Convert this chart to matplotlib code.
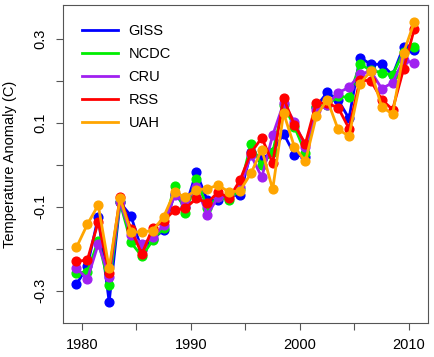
import matplotlib
matplotlib.use("Agg")
import matplotlib.pyplot as plt
import numpy as np

plt.rcParams['font.family'] = ['Liberation Sans', 'DejaVu Sans']

# annual means, plotted at mid-year
years = np.arange(1979, 2011) + 0.5

giss = [-0.285, -0.242, -0.124, -0.327, -0.090, -0.122, -0.204, -0.176, -0.156, -0.069,
        -0.100, -0.018, -0.085, -0.085, -0.073, -0.073, 0.030, 0.013, 0.030, 0.074,
        0.024, 0.019, 0.138, 0.172, 0.154, 0.110, 0.255, 0.239, 0.239, 0.213,
        0.280, 0.272]
ncdc = [-0.258, -0.255, -0.181, -0.287, -0.090, -0.185, -0.218, -0.180, -0.150, -0.050,
        -0.115, -0.035, -0.102, -0.077, -0.085, -0.057, 0.049, -0.001, 0.030, 0.142,
        0.090, 0.028, 0.138, 0.142, 0.163, 0.160, 0.239, 0.225, 0.219, 0.213,
        0.269, 0.279]
cru = [-0.246, -0.272, -0.189, -0.267, -0.088, -0.168, -0.189, -0.173, -0.144, -0.073,
       -0.088, -0.054, -0.119, -0.077, -0.073, -0.054, 0.023, -0.030, 0.070, 0.146,
       0.102, 0.042, 0.130, 0.142, 0.171, 0.184, 0.215, 0.223, 0.181, 0.195,
       0.250, 0.241]
rss = [-0.230, -0.227, -0.136, -0.258, -0.077, -0.154, -0.213, -0.150, -0.134, -0.108,
       -0.104, -0.080, -0.091, -0.065, -0.080, -0.037, 0.028, 0.064, 0.004, 0.158,
       0.094, 0.050, 0.147, 0.146, 0.136, 0.086, 0.201, 0.200, 0.155, 0.131,
       0.227, 0.324]
uah = [-0.197, -0.142, -0.096, -0.247, -0.080, -0.160, -0.160, -0.157, -0.124, -0.065,
       -0.078, -0.060, -0.057, -0.049, -0.065, -0.062, -0.021, 0.036, -0.059, 0.123,
       0.042, 0.008, 0.115, 0.155, 0.084, 0.068, 0.192, 0.223, 0.138, 0.120,
       0.266, 0.340]

names = ['GISS', 'NCDC', 'CRU', 'RSS', 'UAH']
colors = ['#0000FF', '#00EE00', '#A020F0', '#FF0000', '#FFA500']
series = [giss, ncdc, cru, rss, uah]

fig = plt.figure(figsize=(4.34, 3.57), dpi=100)
ax = fig.add_axes([0.145, 0.095, 0.841, 0.891])

for name, col, vals in zip(names, colors, series):
    ax.plot(years, vals, color=col, lw=2, marker='o', ms=6.3, mec=col, label=name)

ax.set_xlim(1978.26, 2011.74)
ax.set_ylim(-0.377, 0.38)

ax.set_xticks([1980, 1985, 1990, 1995, 2000, 2005, 2010])
ax.set_xticklabels(['1980', '', '1990', '', '2000', '', '2010'])
yt = [-0.3, -0.2, -0.1, 0.0, 0.1, 0.2, 0.3]
ax.set_yticks(yt)
ax.set_yticklabels(['-0.3', '', '-0.1', '', '0.1', '', '0.3'], rotation=90, va='center')

ax.tick_params(direction='out', length=5, width=0.8, color='#555555', labelsize=10.5)
ax.tick_params(axis='x', pad=6)
ax.tick_params(axis='y', pad=6)
for s in ax.spines.values():
    s.set_color('#555555')
    s.set_linewidth(0.8)

ax.set_ylabel('Temperature Anomaly (C)', fontsize=10.5, labelpad=12)

ax.legend(loc='upper left', frameon=False, fontsize=10.5, handlelength=2.5,
          handletextpad=0.7, labelspacing=0.62, borderaxespad=0.9,
          markerscale=0, bbox_to_anchor=(0.0, 1.0))

fig.savefig('out.png', dpi=100)
